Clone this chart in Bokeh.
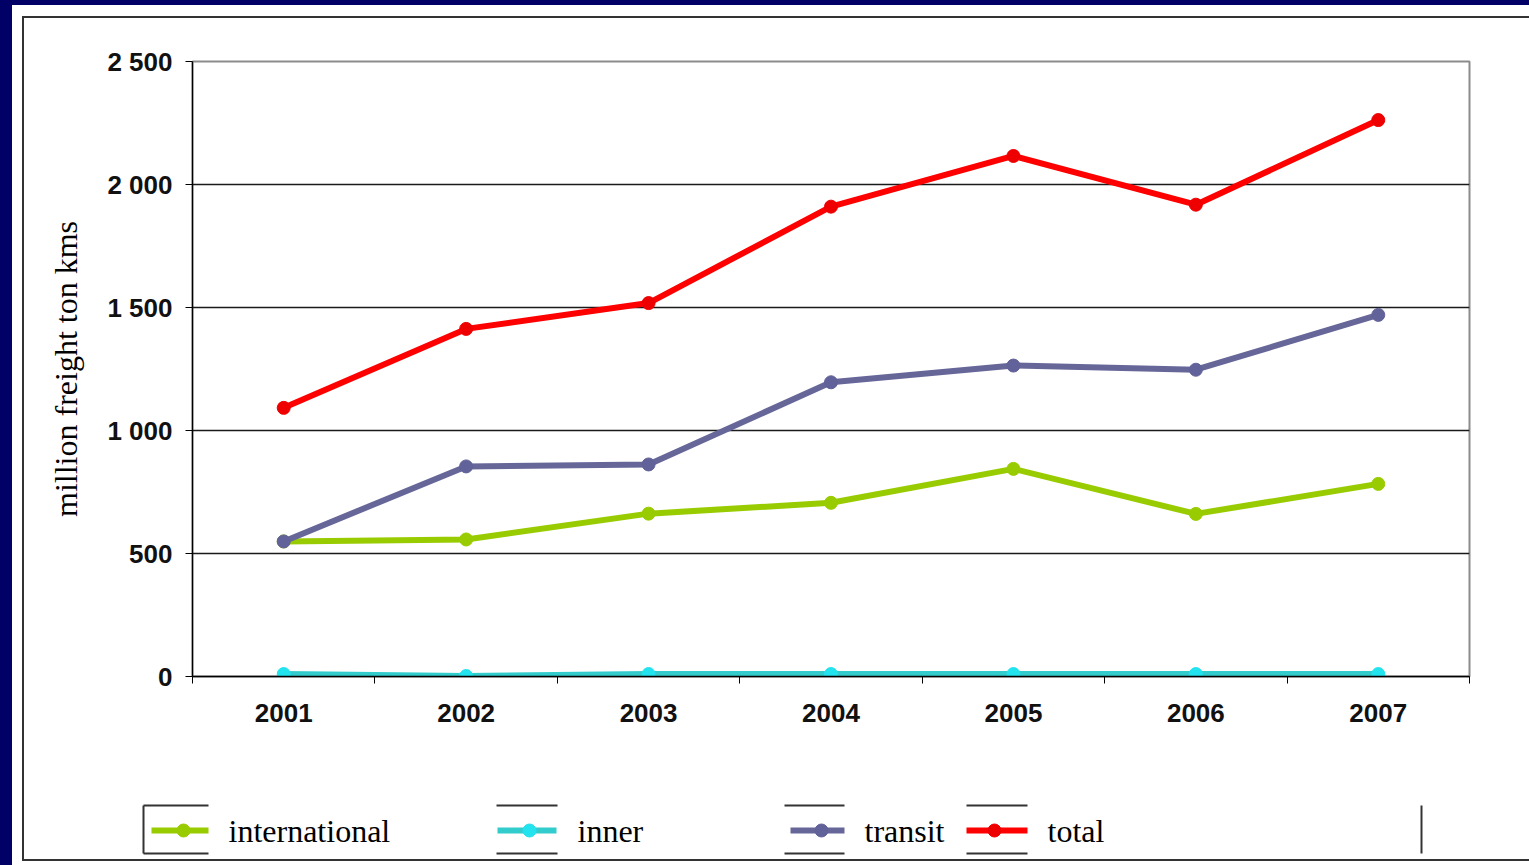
from bokeh.plotting import figure
from bokeh.layouts import column
from bokeh.models import Range1d, FixedTicker
from bokeh.embed import file_html
from bokeh.resources import INLINE
from bokeh.core.properties import value

# ---- data -------------------------------------------------------------
years = [2001, 2002, 2003, 2004, 2005, 2006, 2007]
international = [549, 557, 662, 706, 844, 661, 783]
inner = [10, 2, 10, 10, 10, 10, 10]
transit = [549, 854, 862, 1196, 1264, 1247, 1470]
total = [1092, 1413, 1518, 1910, 2116, 1918, 2262]

series_names = ["international", "inner", "transit", "total"]
series_values = [international, inner, transit, total]
line_colors = ["#99CC00", "#33CCCC", "#666699", "#FF0000"]
marker_colors = ["#99CC00", "#22E3EE", "#62629A", "#EE0000"]

y_ticks = [0, 500, 1000, 1500, 2000, 2500]
y_tick_labels = ["0", "500", "1 000", "1 500", "2 000", "2 500"]
y_label = "million freight ton kms"

SANS = "Liberation Sans"
SERIF = "Liberation Serif"

# ---- main chart ---------------------------------------------------------
chart = figure(
    width=1505, height=742,
    x_range=Range1d(years[0] - 0.5, years[-1] + 0.5),
    y_range=Range1d(y_ticks[0], y_ticks[-1]),
    output_backend="svg", toolbar_location=None,
    min_border_left=168, min_border_right=60,
    min_border_top=43, min_border_bottom=84,
    background_fill_color="white", border_fill_color="white",
    outline_line_color="#8c8c8c", outline_line_width=2,
)

xaxis = chart.xaxis[0]
xaxis.ticker = FixedTicker(ticks=years,
                           minor_ticks=[y - 0.5 for y in years] + [years[-1] + 0.5])
xaxis.major_label_overrides = {y: str(y) for y in years}
xaxis.major_tick_line_color = None
xaxis.major_tick_out = 7
xaxis.major_tick_in = 0
xaxis.minor_tick_in = 0
xaxis.minor_tick_out = 7
xaxis.minor_tick_line_color = "black"
xaxis.minor_tick_line_width = 1
xaxis.axis_line_color = "black"
xaxis.axis_line_width = 1.3
xaxis.major_label_standoff = 20
xaxis.major_label_text_font = SANS
xaxis.major_label_text_font_style = "bold"
xaxis.major_label_text_font_size = "26px"
xaxis.major_label_text_color = "#111111"

yaxis = chart.yaxis[0]
yaxis.ticker = FixedTicker(ticks=y_ticks, minor_ticks=[])
yaxis.major_label_overrides = dict(zip(y_ticks, y_tick_labels))
yaxis.major_tick_in = 0
yaxis.major_tick_out = 7
yaxis.major_tick_line_color = "black"
yaxis.minor_tick_line_color = None
yaxis.axis_line_color = "black"
yaxis.axis_line_width = 1.3
yaxis.major_label_standoff = 13
yaxis.major_label_text_font = SANS
yaxis.major_label_text_font_style = "bold"
yaxis.major_label_text_font_size = "26px"
yaxis.major_label_text_color = "#111111"
yaxis.axis_label = y_label
yaxis.axis_label_text_font = SERIF
yaxis.axis_label_text_font_style = "normal"
yaxis.axis_label_text_font_size = "32px"
yaxis.axis_label_text_color = "black"
yaxis.axis_label_standoff = 20

chart.xgrid.grid_line_color = None
chart.ygrid.ticker = FixedTicker(ticks=y_ticks[1:-1])
chart.ygrid.grid_line_color = "#1a1a1a"
chart.ygrid.grid_line_width = 1.3

for vals, lc, mc in zip(series_values, line_colors, marker_colors):
    chart.line(years, vals, line_color=lc, line_width=6)
    chart.scatter(years, vals, size=13, fill_color=mc, line_color=mc)

# ---- legend strip (page pixel coordinates) -------------------------------
leg = figure(
    width=1505, height=99,
    x_range=Range1d(24, 1529), y_range=Range1d(859, 760),
    x_axis_type=None, y_axis_type=None,
    output_backend="svg", toolbar_location=None, min_border=0,
    outline_line_color=None, background_fill_color="white",
    border_fill_color="white",
)

sym_x0 = [151, 497, 790, 966]
sym_x1 = [208, 556, 844, 1027]
mark_x = [183, 529, 821, 994]
text_x = [228, 577, 864, 1047]
sym_y = 830
text_y = 830

for x0, x1, mx, lc, mc in zip(sym_x0, sym_x1, mark_x, line_colors, marker_colors):
    leg.line([x0, x1], [sym_y, sym_y], line_color=lc, line_width=6)
    leg.scatter([mx], [sym_y], size=13, fill_color=mc, line_color=mc)

leg.text(x=text_x, y=[text_y] * len(text_x), text=series_names,
         text_font=value(SERIF), text_font_size="32px",
         text_baseline="alphabetic", text_align="left", text_color="black")

# broken frame around the legend entries
box_top, box_bottom = 805, 853
seg_left = [143, 496, 784, 966]
seg_right = [208, 557, 844, 1027]
fx0 = seg_left + seg_left + [143, 1421]
fx1 = seg_right + seg_right + [143, 1421]
fy0 = [box_top] * 4 + [box_bottom] * 4 + [box_top, box_top]
fy1 = [box_top] * 4 + [box_bottom] * 4 + [box_bottom, box_bottom]
leg.segment(fx0, fy0, fx1, fy1, line_color="#333333", line_width=2)

# ---- page layout ---------------------------------------------------------
frame_box = column(
    column(chart), column(leg), margin=(11, 0, 0, 10),
    styles={"border-left": "2px solid #333333",
            "border-top": "2px solid #333333",
            "border-bottom": "2px solid #333333"},
)
panel = column(frame_box, margin=(5, 0, 0, 12), width=1517, height=860,
               styles={"background-color": "white"})
page = column(panel, width=1529, height=865,
              styles={"background-color": "#000066"})

open("out.html", "w").write(file_html(page, INLINE))
